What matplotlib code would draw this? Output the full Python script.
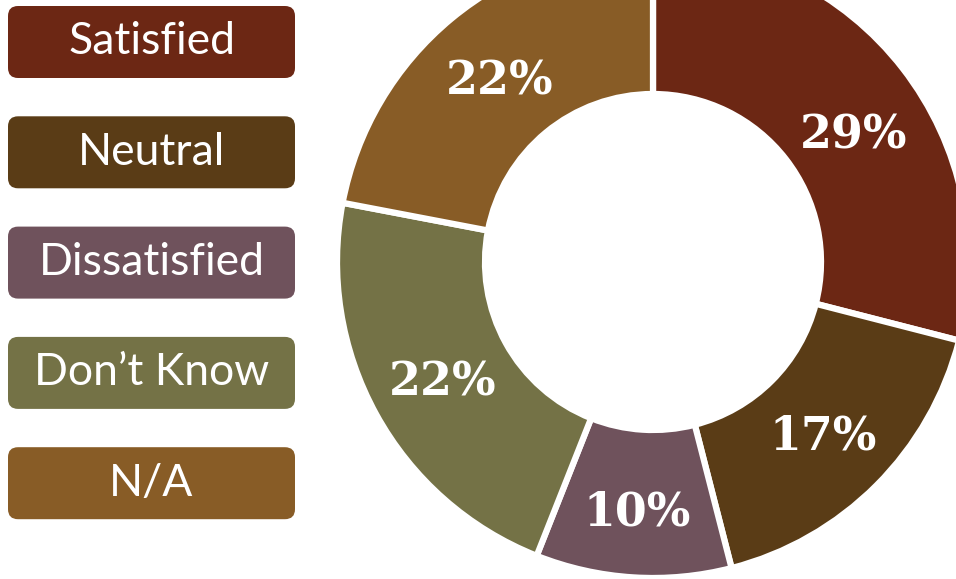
import numpy as np
import matplotlib.pyplot as plt
from matplotlib.patches import FancyBboxPatch

# survey answers, clockwise from 12 o'clock
categories = ["Satisfied", "Neutral", "Dissatisfied", "Don\u2019t Know", "N/A"]
shares = [29, 17, 10, 22, 22]
colors = ["#6C2714", "#5A3C16", "#6F525C", "#747246", "#885C26"]

W, H = 956, 579

# small hand tweaks for the percentage labels: (degrees, extra radius px)
label_nudge = [(-4.5, 0), (0, 0), (0, 6), (0, 0), (0, 0)]


def main():
    fig = plt.figure(figsize=(W / 100, H / 100), dpi=100)
    ax = fig.add_axes([0, 0, 1, 1])

    # donut, in pixel units of the figure
    cx, cy = 653, H - 262
    r_out, r_in = 316, 168
    wedges, _, autotexts = ax.pie(
        shares, colors=colors, startangle=90, counterclock=False,
        center=(cx, cy), radius=r_out,
        autopct='%.0f%%', pctdistance=0.76,
        wedgeprops=dict(width=r_out - r_in, edgecolor="white", linewidth=4.5),
        textprops=dict(color="white", fontsize=33, fontweight="bold",
                       family="DejaVu Serif"))

    for w, t, (dang, dr) in zip(wedges, autotexts, label_nudge):
        ang = np.deg2rad((w.theta1 + w.theta2) / 2 + dang)
        r = 0.76 * r_out + dr
        t.set_position((cx + r * np.cos(ang), cy + r * np.sin(ang)))
        t.set_va("center_baseline")

    # legend as rounded colour boxes on the left
    box_w, box_h = 287, 72
    top0, step = 6, 110.3
    for i, (name, col) in enumerate(zip(categories, colors)):
        top = top0 + i * step
        y0 = H - top - box_h
        ax.add_patch(FancyBboxPatch((8, y0), box_w, box_h,
                                    boxstyle="round,pad=0,rounding_size=10",
                                    facecolor=col, edgecolor="none"))
        ax.text(8 + box_w / 2, y0 + box_h / 2, name, color="white",
                fontsize=32, family="Lato", ha="center", va="center")

    ax.set_xlim(0, W)
    ax.set_ylim(0, H)
    ax.set_aspect("auto")
    ax.axis("off")
    fig.savefig("out.png", dpi=100)


if __name__ == "__main__":
    main()
